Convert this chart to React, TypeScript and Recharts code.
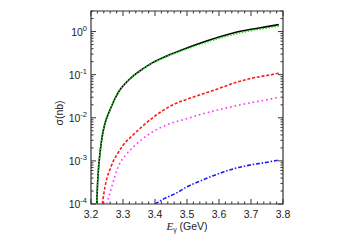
import { LineChart, Line, XAxis, YAxis, ReferenceArea } from 'recharts';

const W = 349;
const H = 245;
const LEFT = 91;
const TOP = 11;
const RIGHT = 283;
const BOTTOM = 204;
const FONT = '"Liberation Sans", Arial, sans-serif';

const X_MAJOR = [3.2, 3.3, 3.4, 3.5, 3.6, 3.7, 3.8];
const X_TICKS = [
    3.2, 3.22, 3.24, 3.26, 3.28, 3.3, 3.32, 3.34, 3.36, 3.38, 3.4, 3.42, 3.44, 3.46, 3.48,
    3.5, 3.52, 3.54, 3.56, 3.58, 3.6, 3.62, 3.64, 3.66, 3.68, 3.7, 3.72, 3.74, 3.76, 3.78, 3.8,
];
const Y_MAJOR = [1e-4, 1e-3, 1e-2, 1e-1, 1];
const Y_MINOR_MULT = [2, 3, 4, 5, 6, 7, 8, 9];

// total cross section, solid black
const blackE = [3.2178, 3.22, 3.223, 3.228, 3.235, 3.245, 3.259, 3.275, 3.29, 3.31, 3.335, 3.363, 3.39, 3.44, 3.49, 3.545, 3.6, 3.65, 3.7, 3.75, 3.787];
const blackS = [1e-4, 2.5e-4, 6e-4, 1.5e-3, 3.7e-3, 8e-3, 0.015, 0.028, 0.044, 0.066, 0.098, 0.138, 0.185, 0.28, 0.39, 0.55, 0.75, 0.95, 1.13, 1.3, 1.45];

// green dotted, almost on top of the black one
const greenE = [3.2178, 3.22, 3.223, 3.228, 3.235, 3.245, 3.259, 3.275, 3.29, 3.31, 3.335, 3.363, 3.39, 3.44, 3.49, 3.545, 3.6, 3.65, 3.7, 3.75, 3.787];
const greenS = [1e-4, 2.5e-4, 6e-4, 1.5e-3, 3.7e-3, 8e-3, 0.015, 0.028, 0.044, 0.066, 0.097, 0.136, 0.181, 0.272, 0.375, 0.52, 0.7, 0.88, 1.05, 1.21, 1.36];

// red dashed
const redE = [3.2355, 3.2437, 3.25, 3.26, 3.27, 3.28, 3.3, 3.33, 3.36, 3.4, 3.45, 3.5, 3.545, 3.6, 3.65, 3.7, 3.75, 3.787];
const redS = [1e-4, 2.5e-4, 4e-4, 6.5e-4, 1e-3, 1.35e-3, 2.3e-3, 3.9e-3, 6.3e-3, 0.011, 0.019, 0.027, 0.035, 0.048, 0.065, 0.082, 0.096, 0.108];

// magenta dotted
const magE = [3.249, 3.257, 3.265, 3.275, 3.29, 3.31, 3.332, 3.36, 3.384, 3.436, 3.499, 3.545, 3.597, 3.649, 3.701, 3.75, 3.787];
const magS = [1e-4, 1.6e-4, 2.5e-4, 4.5e-4, 8.8e-4, 1.4e-3, 2.1e-3, 3.2e-3, 4.3e-3, 6.8e-3, 9.5e-3, 0.0121, 0.0152, 0.0187, 0.0225, 0.0262, 0.0302];

// blue dash-dot
const blueE = [3.4, 3.43, 3.467, 3.5, 3.545, 3.6, 3.65, 3.7, 3.75, 3.787];
const blueS = [1e-4, 1.35e-4, 1.8e-4, 2.5e-4, 3.5e-4, 5.1e-4, 6.7e-4, 8.1e-4, 9.3e-4, 1.05e-3];

const zip = (xs: number[], ys: number[]) => xs.map((x, i) => ({ x, y: ys[i] }));

const yTicks: number[] = [];
Y_MAJOR.forEach((d) => {
    yTicks.push(d);
    Y_MINOR_MULT.forEach((m) => {
        const v = d * m;
        if (v <= 3) yTicks.push(v);
    });
});

const isMajorX = (v: number) => X_MAJOR.some((m) => Math.abs(m - v) < 1e-6);

const XTick = ({ x, payload }: any) => {
    const major = isMajorX(payload.value);
    const len = major ? 5 : 2.5;
    return (
        <g>
            <line x1={x} x2={x} y1={BOTTOM} y2={BOTTOM - len} stroke="#333" strokeWidth={1} />
            <line x1={x} x2={x} y1={TOP} y2={TOP + len} stroke="#333" strokeWidth={1} />
            {major && (
                <text x={x} y={BOTTOM + 14} textAnchor="middle" fontSize={10.5} fontFamily={FONT} fill="#222">
                    {payload.value.toFixed(1)}
                </text>
            )}
        </g>
    );
};

const YTick = ({ y, payload }: any) => {
    const lg = Math.log10(payload.value);
    const e = Math.round(lg);
    const major = Math.abs(lg - e) < 1e-6;
    const len = major ? 5 : 2.5;
    return (
        <g>
            <line x1={LEFT} x2={LEFT + len} y1={y} y2={y} stroke="#333" strokeWidth={1} />
            <line x1={RIGHT} x2={RIGHT - len} y1={y} y2={y} stroke="#333" strokeWidth={1} />
            {major && (
                <text x={LEFT - 4} y={y + 4} textAnchor="end" fontSize={10.5} fontFamily={FONT} fill="#222">
                    10
                    <tspan dy={-5} fontSize={7.5}>{e}</tspan>
                </text>
            )}
        </g>
    );
};

export default function App() {
    return (
        <div style={{ position: 'absolute', left: 0, top: 0, width: W, height: H, background: '#fff' }}>
            <LineChart width={W} height={H} margin={{ top: TOP, right: W - RIGHT, left: 0, bottom: 0 }}>
                <XAxis
                    dataKey="x"
                    type="number"
                    domain={[3.2, 3.8]}
                    ticks={X_TICKS}
                    interval={0}
                    allowDataOverflow
                    height={H - BOTTOM}
                    axisLine={false}
                    tickLine={false}
                    tick={<XTick />}
                />
                <YAxis
                    type="number"
                    scale="log"
                    domain={[1e-4, 3]}
                    ticks={yTicks}
                    interval={0}
                    allowDataOverflow
                    width={LEFT}
                    axisLine={false}
                    tickLine={false}
                    tick={<YTick />}
                />
                <Line data={zip(blackE, blackS)} dataKey="y" type="monotone" stroke="#000" strokeWidth={1.6} dot={false} isAnimationActive={false} />
                <Line data={zip(greenE, greenS)} dataKey="y" type="monotone" stroke="#1fd01f" strokeWidth={1.6} strokeDasharray="1.5 1.5" dot={false} isAnimationActive={false} />
                <Line data={zip(redE, redS)} dataKey="y" type="monotone" stroke="#ff1a1a" strokeWidth={1.6} strokeDasharray="3 1.8" dot={false} isAnimationActive={false} />
                <Line data={zip(magE, magS)} dataKey="y" type="monotone" stroke="#ff2eff" strokeWidth={1.6} strokeDasharray="1.6 3" dot={false} isAnimationActive={false} />
                <Line data={zip(blueE, blueS)} dataKey="y" type="monotone" stroke="#1a1aff" strokeWidth={1.6} strokeDasharray="4 1.8 1.5 1.8" dot={false} isAnimationActive={false} />
                <ReferenceArea x1={3.2} x2={3.8} y1={1e-4} y2={3} fill="none" stroke="#333" strokeWidth={1.2} ifOverflow="visible" />
            </LineChart>
            <div
                style={{
                    position: 'absolute',
                    left: 59,
                    top: 113,
                    transform: 'translate(-50%, -50%) rotate(-90deg)',
                    fontFamily: FONT,
                    fontSize: 10.5,
                    color: '#222',
                    whiteSpace: 'nowrap',
                }}
            >
                σ(nb)
            </div>
            <div
                style={{
                    position: 'absolute',
                    left: 187,
                    top: 226,
                    transform: 'translate(-50%, -50%)',
                    fontFamily: FONT,
                    fontSize: 10.5,
                    color: '#222',
                    whiteSpace: 'nowrap',
                }}
            >
                <i style={{ fontFamily: '"Liberation Serif", serif', fontSize: 11 }}>E</i>
                <sub style={{ fontSize: 7, verticalAlign: -2 }}>γ</sub> (GeV)
            </div>
        </div>
    );
}
